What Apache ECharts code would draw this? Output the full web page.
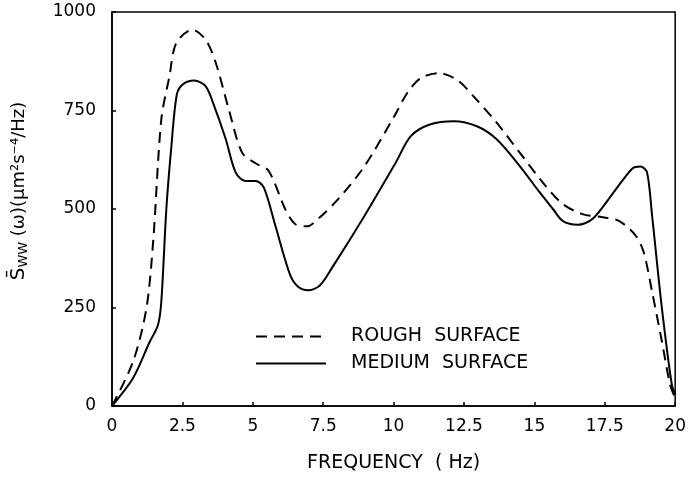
<!DOCTYPE html>
<html>
<head>
<meta charset="UTF-8">
<title></title>
<style>
	*{padding:0;margin:0;}
	body{background:#fff;}
	#chart{width:689px;height:478px;}
</style>
</head>
<body>
<div id="chart"></div>
<script src="https://cdn.jsdelivr.net/npm/echarts@6/dist/echarts.min.js"></script>
<script>
	// values
	var xTicks = [0, 2.5, 5, 7.5, 10, 12.5, 15, 17.5, 20];
	var yTicks = [0, 250, 500, 750, 1000];

	var roughX = [0, 0.75, 1.22, 1.46, 1.75, 2.04, 2.28, 2.86, 3.33, 3.69, 4.15, 4.62, 5.1, 5.56, 6.15, 6.5, 6.92, 7.32, 8.03, 8.97, 10.02, 10.49, 10.96, 11.6, 12.25, 12.84, 13.66, 14.48, 15.3, 16.0, 16.71, 17.42, 18.0, 18.59, 18.88, 19.18, 19.53, 19.82, 20];
	var roughY = [0, 113, 247, 416, 727, 837, 921, 955, 929, 870, 752, 643, 616, 597, 500, 462, 456, 475, 525, 609, 735, 795, 832, 845, 828, 786, 719, 643, 567, 513, 487, 479, 470, 433, 391, 290, 163, 54, 20];

	var mediumX = [0, 0.75, 1.34, 1.63, 1.75, 1.93, 2.1, 2.3, 2.51, 2.92, 3.33, 3.63, 4.04, 4.39, 4.74, 5.1, 5.39, 5.8, 6.33, 6.62, 6.97, 7.38, 7.79, 8.97, 10.08, 10.61, 11.31, 12.14, 12.96, 13.66, 14.48, 15.19, 15.66, 16.0, 16.54, 17.07, 17.77, 18.48, 18.77, 19.0, 19.18, 19.53, 19.88, 20];
	var mediumY = [0, 71, 163, 205, 264, 500, 652, 790, 816, 826, 811, 761, 677, 593, 571, 571, 555, 458, 332, 302, 294, 306, 348, 483, 618, 685, 715, 723, 710, 677, 609, 542, 500, 470, 460, 475, 538, 603, 608, 593, 483, 247, 54, 30];

	function pairs(xs, ys){
		var out = [];
		for(var i = 0; i < xs.length; i++){
			out.push([xs[i], ys[i]]);
		}
		return out;
	}

	var font = "DejaVu Sans";
	var chart = echarts.init(document.getElementById("chart"));
	var option = {
		backgroundColor: "#fff",
		animation: false,
		grid: {
			left: 112, right: 9, top: 12, bottom: 70,
			show: true, borderColor: "#000", borderWidth: 1.5
		},
		legend: {
			orient: "vertical",
			left: 250, top: 322,
			itemWidth: 70, itemHeight: 12, itemGap: 8,
			itemStyle: {opacity: 0},
			textStyle: {color: "#000", fontFamily: font, fontSize: 19, padding: [0, 0, 0, 20]},
			data: ["ROUGH  SURFACE", "MEDIUM  SURFACE"]
		},
		xAxis: {
			type: "value",
			min: 0, max: 20, interval: 2.5,
			name: "FREQUENCY  ( Hz)",
			nameLocation: "middle",
			nameGap: 48,
			nameTextStyle: {color: "#000", fontFamily: font, fontSize: 19},
			axisLine: {lineStyle: {color: "#000", width: 1.5}},
			axisTick: {inside: true, length: 4, lineStyle: {color: "#000", width: 1.5}},
			axisLabel: {
				color: "#000", fontFamily: font, fontSize: 17, margin: 12,
				formatter: function(v){ return xTicks.indexOf(v) >= 0 ? String(v) : ""; }
			},
			splitLine: {show: false}
		},
		yAxis: {
			type: "value",
			min: 0, max: 1000, interval: 250,
			name: "{s|S̄}{sub|WW}{n| (ω)(μm²s⁻⁴/Hz)}",
			nameLocation: "middle",
			nameGap: 82,
			nameTextStyle: {
				color: "#000", fontFamily: font, fontSize: 18,
				padding: [0, 0, 0, 36],
				rich: {
					s: {fontFamily: font, fontSize: 20, color: "#000"},
					sub: {fontFamily: font, fontSize: 13, color: "#000", verticalAlign: "bottom", padding: [9, 0, 0, 0]},
					n: {fontFamily: font, fontSize: 18, color: "#000"}
				}
			},
			axisLine: {show: true, lineStyle: {color: "#000", width: 1.5}},
			axisTick: {show: true, inside: true, length: 4, lineStyle: {color: "#000", width: 1.5}},
			axisLabel: {
				color: "#000", fontFamily: font, fontSize: 17, margin: 16,
				formatter: function(v){ return yTicks.indexOf(v) >= 0 ? String(v) : ""; }
			},
			splitLine: {show: false}
		},
		series: [
			{
				name: "ROUGH  SURFACE",
				type: "line",
				smooth: 0.3,
				symbol: "none",
				lineStyle: {color: "#000", width: 2, type: [11, 7]},
				itemStyle: {color: "#000"},
				data: pairs(roughX, roughY)
			},
			{
				name: "MEDIUM  SURFACE",
				type: "line",
				smooth: 0.3,
				symbol: "none",
				lineStyle: {color: "#000", width: 2, type: "solid"},
				itemStyle: {color: "#000"},
				data: pairs(mediumX, mediumY)
			}
		]
	};
	chart.setOption(option);
</script>
</body>
</html>
